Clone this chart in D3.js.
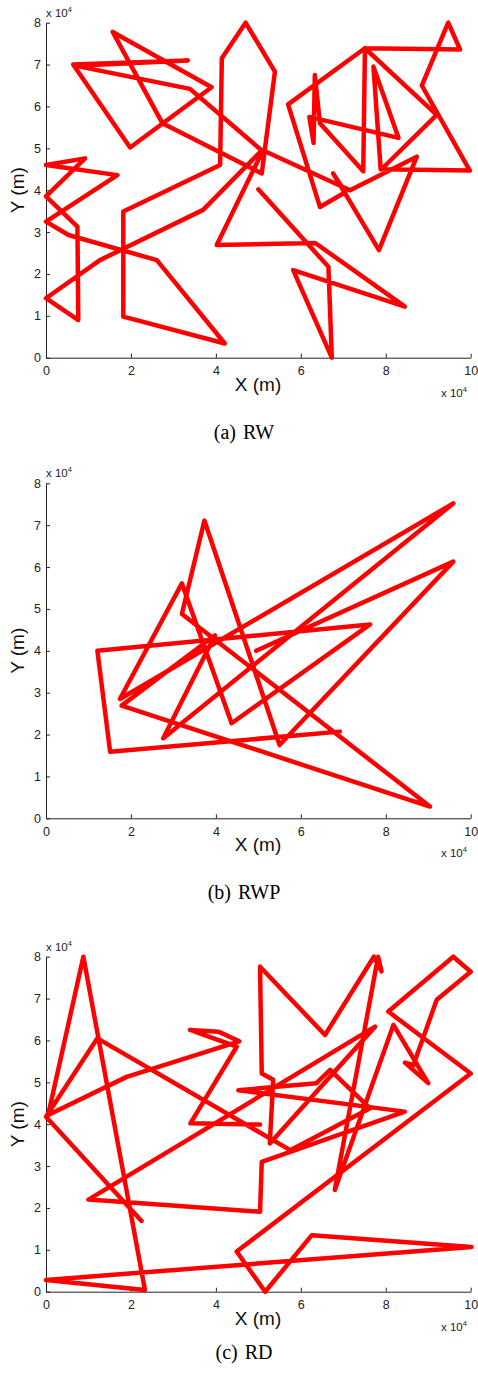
<!DOCTYPE html>
<html>
  <head>
    <meta charset="utf-8">
    <script src="https://cdn.jsdelivr.net/npm/d3@7"></script>
    <style>
      body { margin: 0; background: #fff; }
      svg { display: block; }
    </style>
  </head>
  <body>
    <script>
      // trajectories, in units of 10^4 m (axis multiplier "x 10^4")
      const rwX = [5.0, 6.65, 6.73, 5.82, 8.45, 6.34, 4.02, 5.1, 3.39, 0.71, 3.34, 0.64, 1.98, 3.9, 1.57, 2.74, 5.08, 5.39, 4.7, 4.14, 4.1, 1.82, 1.82, 4.21, 2.61, 0.53, 0.0, 1.68, 0.0, 0.92, 0.0, 0.74, 0.76, 0.0, 1.27, 3.7, 5.09, 7.16, 8.73, 7.84, 6.76, 7.05, 6.45, 5.7, 7.51, 9.75, 9.47, 8.85, 9.98, 7.9, 9.2, 7.51, 7.47, 6.45, 6.33, 6.3, 6.2, 8.3, 7.71, 7.88];
      const rwY = [4.02, 2.17, 0.0, 2.09, 1.22, 2.74, 2.69, 4.93, 6.42, 6.97, 7.1, 7.0, 5.02, 6.46, 7.78, 5.6, 4.4, 6.83, 8.0, 7.15, 4.6, 3.49, 0.98, 0.34, 2.33, 2.93, 3.25, 4.36, 4.6, 4.76, 3.85, 3.13, 0.9, 1.42, 2.33, 3.53, 4.96, 4.0, 4.8, 2.57, 4.4, 3.95, 3.6, 6.05, 7.39, 7.36, 8.0, 6.5, 4.47, 4.5, 5.8, 7.39, 4.45, 5.6, 6.75, 5.13, 5.75, 5.25, 6.95, 4.5];

      const rwpX = [4.95, 9.59, 5.5, 3.73, 3.2, 9.04, 1.78, 3.98, 2.76, 9.59, 1.74, 3.2, 4.37, 7.63, 1.21, 1.51, 6.92];
      const rwpY = [4.0, 6.13, 1.75, 7.11, 4.88, 0.28, 2.69, 4.37, 1.91, 7.52, 2.85, 5.61, 2.27, 4.63, 4.0, 1.59, 2.07];

      const rdX = [5.04, 3.4, 4.49, 3.39, 4.06, 4.55, 1.9, 0.05, 0.88, 2.33, 0.0, 10.02, 6.26, 5.16, 4.49, 10.0, 8.06, 9.59, 10.0, 9.2, 8.65, 8.45, 9.0, 8.18, 6.8, 7.82, 7.9, 7.72, 6.57, 5.04, 5.08, 5.35, 5.27, 7.75, 1.0, 5.04, 5.08, 8.45, 4.53, 6.37, 6.69, 7.63, 5.75, 1.21, 0.0, 2.25];
      const rdY = [3.99, 4.02, 5.85, 6.25, 6.21, 5.98, 5.13, 4.22, 8.0, 0.04, 0.28, 1.07, 1.35, 0.0, 0.96, 5.21, 6.69, 8.0, 7.64, 6.97, 5.41, 5.47, 4.98, 6.37, 2.43, 8.0, 7.65, 8.0, 6.13, 7.76, 5.21, 5.06, 3.54, 6.33, 2.2, 1.91, 3.1, 4.3, 4.81, 4.98, 5.3, 4.38, 3.38, 6.05, 4.18, 1.69];

      const xTicks = [0, 2, 4, 6, 8, 10];
      const yTicks = [0, 1, 2, 3, 4, 5, 6, 7, 8];

      const panels = [
        { top: 22.7, xs: rwX, ys: rwY, tag: "(a)", name: "RW", capGap: 81 },
        { top: 483.3, xs: rwpX, ys: rwpY, tag: "(b)", name: "RWP", capGap: 81 },
        { top: 956.7, xs: rdX, ys: rdY, tag: "(c)", name: "RD", capGap: 67 }
      ];

      const width = 478, height = 1374, plotH = 335;
      const svg = d3.select("body").append("svg")
          .attr("width", width)
          .attr("height", height)
          .style("font-family", "'Liberation Sans', Arial, sans-serif");

      const x = d3.scaleLinear().domain([0, 10]).range([46, 470.7]);

      const line = d3.line();

      panels.forEach(p => {
        const y = d3.scaleLinear().domain([0, 8]).range([p.top + plotH, p.top]);
        const g = svg.append("g");
        const bottom = p.top + plotH;

        const gx = g.append("g")
            .attr("transform", `translate(0,${bottom})`)
            .call(d3.axisBottom(x).tickValues(xTicks).tickSizeInner(-4).tickSizeOuter(0).tickPadding(8.5));
        const gy = g.append("g")
            .attr("transform", "translate(46,0)")
            .call(d3.axisLeft(y).tickValues(yTicks).tickSizeInner(-4).tickSizeOuter(0).tickPadding(5));
        [gx, gy].forEach(a => {
          a.selectAll("text").attr("font-size", 12.5).attr("font-family", null).attr("fill", "#222");
          a.selectAll("line, path").attr("stroke", "#222");
        });

        // exponent labels
        const e1 = g.append("text").attr("x", 46).attr("y", p.top - 6)
            .attr("font-size", 11.5).attr("fill", "#222").text("x 10");
        e1.append("tspan").attr("font-size", 7.5).attr("dy", -5).text("4");
        const e2 = g.append("text").attr("x", 441).attr("y", bottom + 39)
            .attr("font-size", 11.5).attr("fill", "#222").text("x 10");
        e2.append("tspan").attr("font-size", 7.5).attr("dy", -5).text("4");

        g.append("text").attr("x", 258).attr("y", bottom + 33)
            .attr("text-anchor", "middle").attr("font-size", 19).attr("fill", "#111")
            .text("X (m)");
        g.append("text")
            .attr("transform", `translate(24,${p.top + plotH / 2}) rotate(-90)`)
            .attr("text-anchor", "middle").attr("font-size", 19).attr("fill", "#111")
            .text("Y (m)");

        const pts = p.xs.map((v, i) => [x(v), y(p.ys[i])]);
        g.append("path")
            .attr("d", line(pts))
            .attr("fill", "none")
            .attr("stroke", "#ff0000")
            .attr("stroke-width", 4.5)
            .attr("stroke-linejoin", "round")
            .attr("stroke-linecap", "round");

        const cap = g.append("text").attr("x", 244).attr("y", bottom + p.capGap)
            .attr("text-anchor", "middle")
            .attr("font-family", "'Liberation Serif', 'Times New Roman', serif")
            .attr("font-size", 20).attr("fill", "#000");
        cap.append("tspan").text(p.tag);
        cap.append("tspan").attr("dx", 7).text(p.name);
      });
    </script>
  </body>
</html>
